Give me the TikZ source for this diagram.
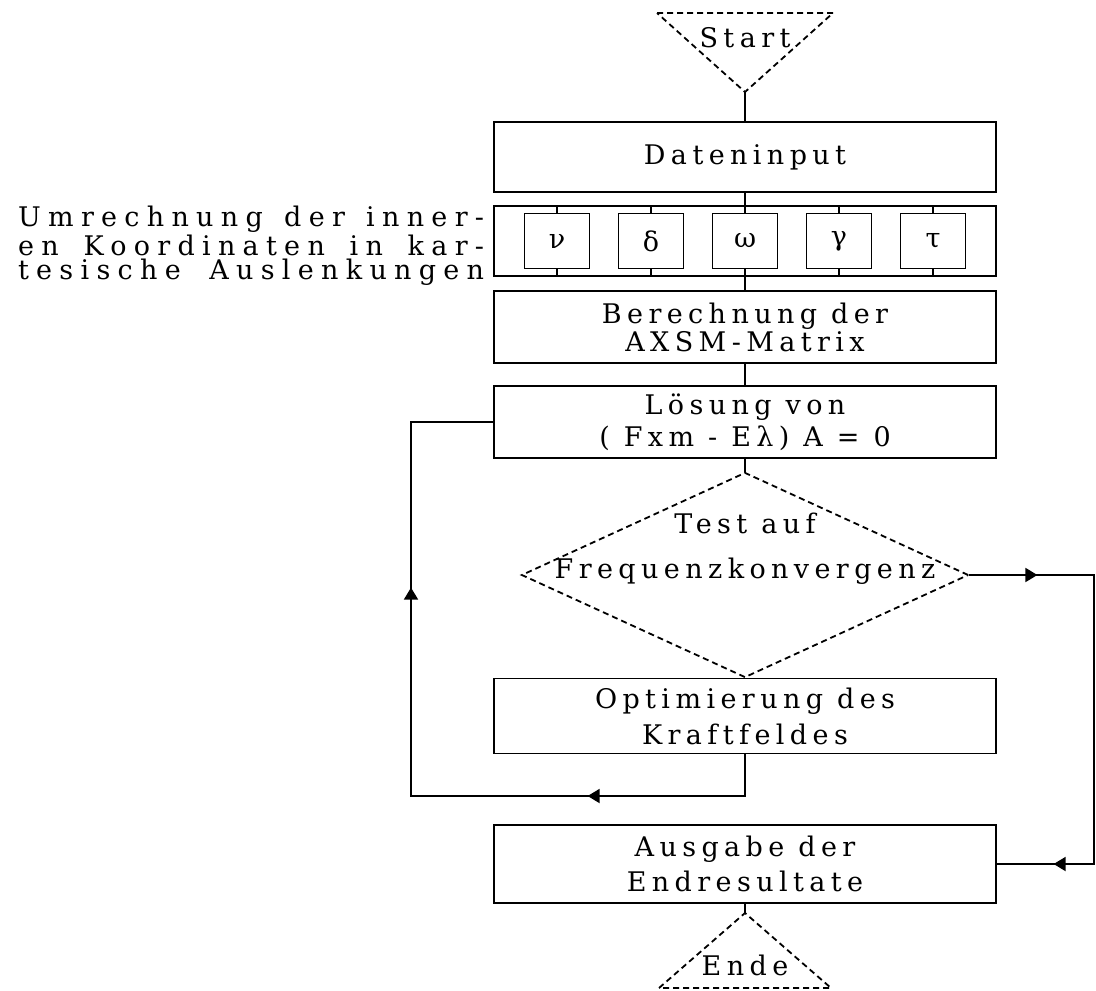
\documentclass[tikz,border=0pt]{standalone}
\usepackage{fontspec}
\setmainfont{DejaVu Serif}[LetterSpace=20]
\usetikzlibrary{shapes.geometric,decorations.markings,arrows.meta}

\begin{document}
\begin{tikzpicture}[x=0.5pt,y=-0.5pt,line width=0.9pt,
every node/.style={align=center,font=\fontsize{13.5}{11.5}\selectfont},
box/.style={draw,minimum width=251pt,inner sep=0pt},
greekbox/.style={draw,minimum width=32.5pt,minimum height=27.5pt,inner sep=0pt},
decision/.style={draw,densely dashed,diamond,minimum width=223.5pt,minimum height=102.5pt,inner sep=0pt},
terminal/.style={densely dashed},
arrowat/.style={postaction={decorate,decoration={markings,mark=at position #1 with {\arrow{Triangle[length=6pt,width=7pt]}}}}}
]
\useasboundingbox (0,0) rectangle (1096,990);

\draw[terminal] (657,13) -- (833,13) -- (745,92) -- cycle; % <- start triangle
\coordinate (startapex) at (745,92);
\node (start) at (745,38) {Start};

\node[box,minimum height=35pt] (datin) at (745,157) {Dateninput};

\node[box,minimum height=35pt] (greek) at (745,241) {};
\node[greekbox] (nu) at (557,241) {ν};
\node[greekbox] (delta) at (651,241) {δ};
\node[greekbox] (omega) at (745,241) {ω};
\node[greekbox] (gamma) at (839,241) {γ};
\node[greekbox] (tau) at (933,241) {τ};
\draw (nu.north) -- (nu.north |- greek.north) (nu.south) -- (nu.south |- greek.south);
\draw (delta.north) -- (delta.north |- greek.north) (delta.south) -- (delta.south |- greek.south);
\draw (omega.north) -- (omega.north |- greek.north) (omega.south) -- (omega.south |- greek.south);
\draw (gamma.north) -- (gamma.north |- greek.north) (gamma.south) -- (gamma.south |- greek.south);
\draw (tau.north) -- (tau.north |- greek.north) (tau.south) -- (tau.south |- greek.south); % <- end greek row
\node[anchor=east,inner sep=0pt,align=left,font=\fontsize{13.5}{12.4}\selectfont\addfontfeature{LetterSpace=27}] (umrech) at (485,246)
  {\makebox[233pt][s]{Umrechnung der inner-}\\ \makebox[233pt][s]{en Koordinaten in kar-}\\ \makebox[233pt][s]{tesische Auslenkungen}};

\node[box,minimum height=36pt] (berech) at (745,327) {Berechnung der\\AXSM-Matrix};
\node[box,minimum height=36pt,font=\fontsize{13.5}{16}\selectfont] (loesung) at (745,422) {Lösung von\\( Fxm - Eλ) A = 0};

\node[decision] (test) at (745,575) {};
\node[font=\fontsize{13.5}{22.5}\selectfont] (testtxt) at (745,549) {Test auf\\Frequenzkonvergenz};

\node[box,minimum height=37.5pt,font=\fontsize{13.5}{18}\selectfont] (optim) at (745,716) {Optimierung des\\Kraftfeldes};
\node[box,minimum height=39pt,font=\fontsize{13.5}{17.5}\selectfont] (ausgabe) at (745,864) {Ausgabe der\\Endresultate};

\draw[terminal] (659,988) -- (745,913) -- (831,988) -- cycle; % <- end triangle
\coordinate (endeapex) at (745,913);
\node (ende) at (745,965) {Ende};

\draw (startapex) -- (datin);
\draw (datin) -- (greek);
\draw (greek) -- (berech);
\draw (berech) -- (loesung);
\draw (loesung) -- (test);
\draw (test) -- (optim);
\draw (ausgabe) -- (endeapex);

\coordinate (loopl) at (411,796);
\coordinate (loopr) at (1094,864);
\draw[arrowat=99.5pt,arrowat=292pt] (optim.south) |- (loopl) |- (loesung.west); % <- back loop
\draw[arrowat=34pt,arrowat=227pt] (test.east) -| (loopr) -- (ausgabe.east); % <- converged
\end{tikzpicture}
\end{document}
